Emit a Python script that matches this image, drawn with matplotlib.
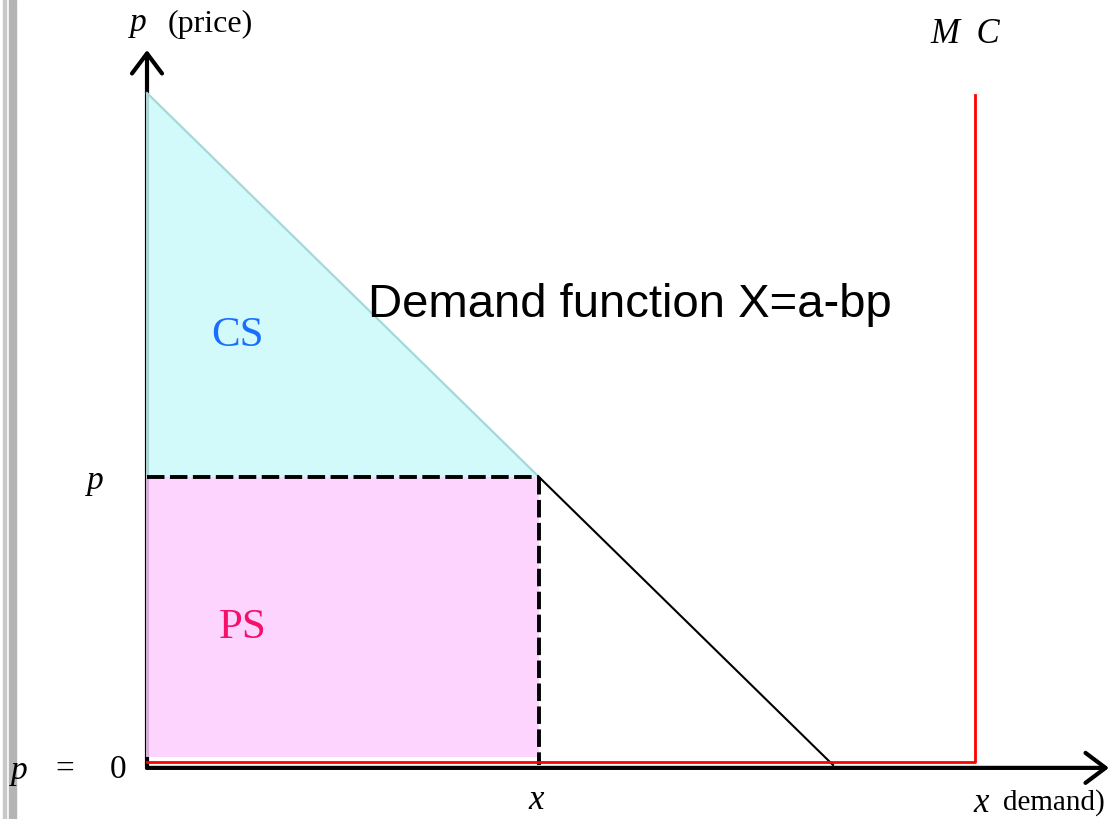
"""Consumer and producer surplus under a linear demand function"""
import matplotlib
matplotlib.use("Agg")
import matplotlib.pyplot as plt
from matplotlib.patches import Rectangle

# demand function X = a - b p (in chart units)
p_max = 7.0        # price where demand is zero
x_max = 7.0        # demand at p = 0
x_eq = 4.0         # chosen quantity
p_eq = 3.0         # chosen price
x_mc = 8.45        # position of the MC line
mc_top = 6.98
mc_base = 0.03

SERIF = "Liberation Serif"

fig = plt.figure(figsize=(11.13, 8.19), dpi=100)
ax = fig.add_axes([0, 0, 1, 1])
ax.set_xlim(-1.5, 9.857)
ax.set_ylim(-0.5625, 7.969)
ax.axis("off")

# frame edge on the left
ax.add_patch(Rectangle((0.003, 0), 0.002, 1, transform=fig.transFigure,
                       color="#c8c8c8", zorder=0))
ax.add_patch(Rectangle((0.008, 0), 0.006, 1, transform=fig.transFigure,
                       color="#b4b4b4", zorder=0))

arrow = dict(arrowstyle="->,head_length=0.72,head_width=0.54", lw=3, color="black",
             mutation_scale=20, shrinkA=0, shrinkB=0)

# axes with arrows
ax.annotate("", xy=(0, 7.448), xytext=(0, -0.03), arrowprops=arrow, zorder=1)
ax.annotate("", xy=(9.816, -0.03), xytext=(0, -0.03), arrowprops=arrow, zorder=1)

# CS triangle and PS rectangle (drawn over the y axis)
ax.fill([-0.01, -0.01, x_eq], [p_max, p_eq, p_eq], color="#cafafa", alpha=0.85,
        lw=0, zorder=2)
ax.fill([-0.01, x_eq, x_eq, -0.01], [0.08, 0.08, p_eq, p_eq], color="#fdcdfd",
        alpha=0.85, lw=0, zorder=2)

# demand line: faint part over CS, black below p
ax.plot([0, x_eq], [p_max, p_eq], color="#a4d8da", lw=1.6, zorder=3)
ax.plot([x_eq, x_max], [p_eq, 0], color="black", lw=1.5, zorder=3)

# dashed lines at p and x
ax.plot([0, x_eq], [p_eq, p_eq], color="black", lw=2.8, ls=(0, (4.5, 1.4)), zorder=4)
ax.plot([x_eq, x_eq], [p_eq, 0], color="black", lw=2.8, ls=(0, (4.5, 1.4)), zorder=4)

# MC
ax.plot([0, x_mc, x_mc], [mc_base, mc_base, mc_top], color="red", lw=2, zorder=4)

# labels
ax.text(-0.09, 7.73, "p", family=SERIF, style="italic", fontsize=24, ha="center", va="center")
ax.text(0.21, 7.71, "(price)", family=SERIF, fontsize=23, ha="left", va="center")
ax.text(8.35, 7.61, "M  C", family=SERIF, style="italic", fontsize=25, ha="center", va="center")
ax.text(-0.53, p_eq - 0.04, "p", family=SERIF, style="italic", fontsize=24, ha="center", va="center")
ax.text(-1.3, -0.06, "p", family=SERIF, style="italic", fontsize=24, ha="center", va="center")
ax.text(-0.84, -0.05, "=", family=SERIF, fontsize=24, ha="center", va="center")
ax.text(-0.3, -0.05, "0", family=SERIF, fontsize=24, ha="center", va="center")
ax.text(x_eq - 0.03, -0.37, "x", family=SERIF, style="italic", fontsize=25, ha="center", va="center")
ax.text(8.51, -0.4, "x", family=SERIF, style="italic", fontsize=25, ha="center", va="center")
ax.text(8.73, -0.39, "demand)", family=SERIF, fontsize=21, ha="left", va="center")

ax.text(0.92, 4.47, "CS", family=SERIF, fontsize=31, color="#1a6eff", ha="center", va="center")
ax.text(0.98, 1.43, "PS", family=SERIF, fontsize=31, color="#f5106a", ha="center", va="center")
ax.text(4.93, 4.79, "Demand function X=a-bp", family="Liberation Sans", fontsize=34,
        ha="center", va="center")

fig.savefig("out.png", dpi=100)
